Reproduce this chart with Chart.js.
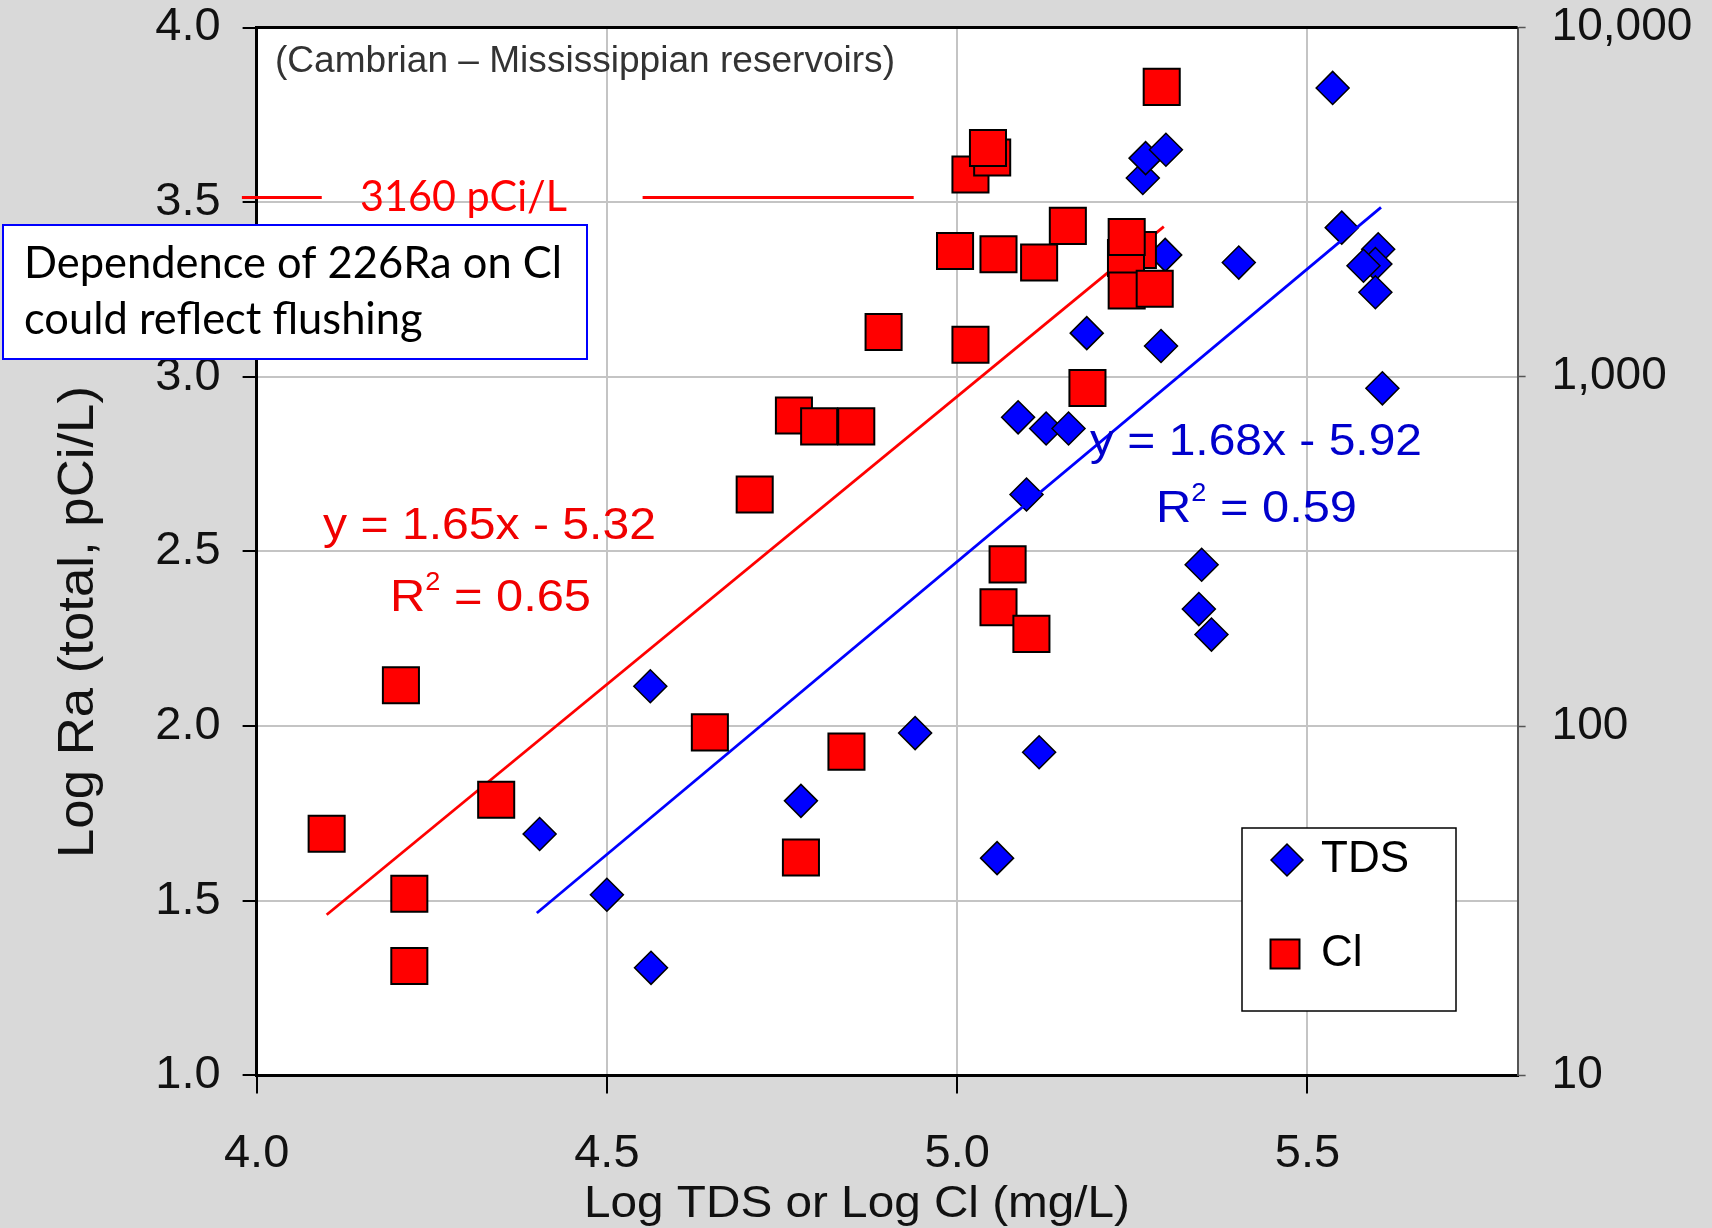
<!DOCTYPE html>
<html>
<head>
<meta charset="utf-8">
<title>Log Ra vs Log TDS / Log Cl</title>
<script src="https://cdn.jsdelivr.net/npm/chart.js@4.4.1/dist/chart.umd.min.js"></script>
<style>
  html, body { margin: 0; padding: 0; background: #d9d9d9; }
  canvas { display: block; }
</style>
</head>
<body>
<canvas id="chart" width="1712" height="1228"></canvas>
<script>
const X_TICKS = [4.0, 4.5, 5.0, 5.5]
const Y_TICKS = [1.0, 1.5, 2.0, 2.5, 3.0, 3.5, 4.0]
const Y2_TICKS = [1, 2, 3, 4]
const Y2_LABELS = ['10', '100', '1,000', '10,000']

// TDS (blue diamonds)
const tdsX = [4.404, 4.500, 4.562, 4.563, 4.777, 4.940, 5.057, 5.117, 5.099, 5.087,
  5.127, 5.159, 5.185, 5.291, 5.297, 5.402, 5.349, 5.345, 5.363, 5.265,
  5.269, 5.298, 5.536, 5.549, 5.601, 5.597, 5.580, 5.597, 5.607]
const tdsY = [1.691, 1.517, 2.114, 1.308, 1.786, 1.980, 1.622, 1.925, 2.663, 2.884,
  2.852, 2.852, 3.125, 3.088, 3.349, 3.327, 2.462, 2.335, 2.262, 3.569,
  3.626, 3.650, 3.827, 3.427, 3.365, 3.323, 3.318, 3.242, 2.967]

// Cl (red squares)
const clX = [4.100, 4.206, 4.218, 4.218, 4.342, 4.647, 4.711, 4.777, 4.767, 4.803,
  4.856, 4.842, 4.895, 4.997, 5.019, 5.019, 5.050, 5.044, 5.059, 5.117,
  5.158, 5.186, 5.072, 5.059, 5.106, 5.258, 5.241, 5.242, 5.242, 5.282, 5.292]
const clY = [1.692, 2.117, 1.520, 1.313, 1.789, 1.982, 2.663, 1.624, 2.889, 2.858,
  2.858, 1.927, 3.128, 3.360, 3.092, 3.579, 3.628, 3.655, 3.351, 3.327,
  3.432, 2.968, 2.463, 2.340, 2.264, 3.363, 3.340, 3.247, 3.400, 3.252, 3.830]

// trend lines, end points as drawn
const clFitX = [4.10, 5.295]
const clFitY = [1.46, 3.43]
const tdsFitX = [4.40, 5.605]
const tdsFitY = [1.465, 3.485]

const X_TITLE = 'Log TDS or Log Cl (mg/L)'
const Y_TITLE = 'Log Ra (total, pCi/L)'
const CAPTION = '(Cambrian \u2013 Mississippian reservoirs)'
const THRESHOLD_LABEL = '3160 pCi/L'
const NOTE_LINES = ['Dependence of 226Ra on Cl', 'could reflect flushing']
const LEGEND_LABELS = ['TDS', 'Cl']

const ARIAL = '"Liberation Sans", Arial, sans-serif'
const CALIBRI = 'Lato, "Noto Sans", sans-serif'
const RED = '#ff0000'
const BLUE = '#0000ff'

const toPoints = (xs, ys) => xs.map((x, i) => ({ x, y: ys[i] }))

function fitText (ctx, text, left, baseline, width, font, color) {
  ctx.save()
  ctx.font = font
  ctx.fillStyle = color
  ctx.textAlign = 'left'
  ctx.textBaseline = 'alphabetic'
  let natural = ctx.measureText(text).width
  ctx.translate(left, baseline)
  ctx.scale(width / natural, 1)
  ctx.fillText(text, 0, 0)
  ctx.restore()
}

function drawEquation (ctx, eq, r2, left, baseline, r2Left, r2Baseline, eqWidth, r2Width, color) {
  fitText(ctx, eq, left, baseline, eqWidth, `45px ${ARIAL}`, color)

  let parts = [['R', 45, 0], ['2', 25, -21], [' = ' + r2, 45, 0]],
    natural = 0
  ctx.save()
  ctx.fillStyle = color
  ctx.textBaseline = 'alphabetic'
  parts.forEach(p => {
    ctx.font = `${p[1]}px ${ARIAL}`
    natural += ctx.measureText(p[0]).width
  })
  ctx.translate(r2Left, r2Baseline)
  ctx.scale(r2Width / natural, 1)
  let x = 0
  parts.forEach(p => {
    ctx.font = `${p[1]}px ${ARIAL}`
    ctx.fillText(p[0], x, p[2])
    x += ctx.measureText(p[0]).width
  })
  ctx.restore()
}

function drawMarker (ctx, style, radius, x, y) {
  if (Chart.helpers && Chart.helpers.drawPoint) {
    Chart.helpers.drawPoint(ctx, { pointStyle: style, radius, borderWidth: ctx.lineWidth, rotation: 0 }, x, y)
    return
  }
  ctx.beginPath()
  if (style === 'rectRot') {
    ctx.moveTo(x, y - radius); ctx.lineTo(x + radius, y); ctx.lineTo(x, y + radius); ctx.lineTo(x - radius, y)
  } else {
    let s = radius * Math.SQRT1_2
    ctx.rect(x - s, y - s, 2 * s, 2 * s)
  }
  ctx.closePath()
  ctx.fill()
  ctx.stroke()
}

const backgroundPlugin = {
  id: 'background',
  beforeDraw (chart) {
    const { ctx, chartArea: a } = chart
    ctx.save()
    ctx.fillStyle = '#d9d9d9'
    ctx.fillRect(0, 0, chart.width, chart.height)
    ctx.fillStyle = '#ffffff'
    ctx.fillRect(a.left, a.top, a.right - a.left, a.bottom - a.top)
    ctx.restore()
  }
}

const overlayPlugin = {
  id: 'overlay',
  afterDraw (chart) {
    const { ctx, chartArea: a } = chart,
      xs = chart.scales.x,
      ys = chart.scales.y

    // top frame line
    ctx.save()
    ctx.strokeStyle = '#000'
    ctx.lineWidth = 3
    ctx.beginPath()
    ctx.moveTo(a.left - 1.5, a.top)
    ctx.lineTo(a.right, a.top)
    ctx.stroke()
    ctx.restore()

    // axis titles
    fitText(ctx, X_TITLE, 584, 1217, 546, `44px ${ARIAL}`, '#111')
    ctx.save()
    ctx.translate(93, 858)
    ctx.rotate(-Math.PI / 2)
    fitText(ctx, Y_TITLE, 0, 0, 472, `50px ${ARIAL}`, '#111')
    ctx.restore()

    fitText(ctx, CAPTION, 275, 72, 620, `36px ${ARIAL}`, '#333')

    // 3160 pCi/L threshold
    let ty = ys.getPixelForValue(3.513)
    ctx.save()
    ctx.strokeStyle = RED
    ctx.lineWidth = 3
    ;[[3.979, 4.093], [4.551, 4.938]].forEach(seg => {
      ctx.beginPath()
      ctx.moveTo(xs.getPixelForValue(seg[0]), ty)
      ctx.lineTo(xs.getPixelForValue(seg[1]), ty)
      ctx.stroke()
    })
    ctx.restore()
    fitText(ctx, THRESHOLD_LABEL, 360, 211, 207, `42px ${CALIBRI}`, RED)

    drawEquation(ctx, 'y = 1.65x - 5.32', '0.65', 323, 539, 390, 611, 333, 201, '#f00000')
    drawEquation(ctx, 'y = 1.68x - 5.92', '0.59', 1090, 455, 1156, 522, 332, 201, '#0000cc')

    // note box
    ctx.save()
    ctx.fillStyle = '#fff'
    ctx.strokeStyle = '#0000ff'
    ctx.lineWidth = 2
    ctx.fillRect(3, 225, 584, 134)
    ctx.strokeRect(3, 225, 584, 134)
    ctx.font = `44px ${CALIBRI}`
    let sx = 538 / ctx.measureText(NOTE_LINES[0]).width
    ctx.fillStyle = '#000'
    ctx.textBaseline = 'alphabetic'
    NOTE_LINES.forEach((line, i) => {
      ctx.save()
      ctx.translate(24, 278 + i * 56)
      ctx.scale(sx, 1)
      ctx.fillText(line, 0, 0)
      ctx.restore()
    })
    ctx.restore()

    // legend
    ctx.save()
    ctx.fillStyle = '#fff'
    ctx.strokeStyle = '#000'
    ctx.lineWidth = 1.5
    ctx.fillRect(1242, 828, 214, 183)
    ctx.strokeRect(1242, 828, 214, 183)
    const rows = [{ y: 860, x: 1287, r: 16 }, { y: 954, x: 1285, r: 20.5 }]
    LEGEND_LABELS.forEach((label, i) => {
      const ds = chart.data.datasets.find(d => d.label === label)
      ctx.fillStyle = ds.backgroundColor
      ctx.strokeStyle = ds.borderColor
      ctx.lineWidth = ds.borderWidth
      drawMarker(ctx, ds.pointStyle, rows[i].r, rows[i].x, rows[i].y)
      ctx.fillStyle = '#000'
      ctx.font = `44px ${ARIAL}`
      ctx.textBaseline = 'middle'
      ctx.fillText(label, 1321, rows[i].y)
    })
    ctx.restore()
  }
}

const tickFont = { family: ARIAL, size: 47 }

new Chart(document.getElementById('chart'), {
  type: 'scatter',
  data: {
    datasets: [
      {
        label: 'Cl',
        data: toPoints(clX, clY),
        pointStyle: 'rect',
        pointRadius: 25.5,
        backgroundColor: RED,
        borderColor: '#000',
        borderWidth: 2,
        order: 0
      },
      {
        label: 'Cl fit',
        type: 'line',
        data: toPoints(clFitX, clFitY),
        borderColor: RED,
        borderWidth: 2.8,
        pointRadius: 0,
        fill: false,
        order: 1
      },
      {
        label: 'TDS fit',
        type: 'line',
        data: toPoints(tdsFitX, tdsFitY),
        borderColor: BLUE,
        borderWidth: 2.8,
        pointRadius: 0,
        fill: false,
        order: 2
      },
      {
        label: 'TDS',
        data: toPoints(tdsX, tdsY),
        pointStyle: 'rectRot',
        pointRadius: 16.5,
        backgroundColor: BLUE,
        borderColor: '#000',
        borderWidth: 1.5,
        order: 3
      }
    ]
  },
  options: {
    responsive: false,
    animation: false,
    events: [],
    layout: { padding: { top: 20, left: 0, right: 0, bottom: 0 } },
    plugins: {
      legend: { display: false },
      tooltip: { enabled: false }
    },
    scales: {
      x: {
        type: 'linear',
        position: 'bottom',
        min: 4.0,
        max: 5.8,
        afterBuildTicks: scale => { scale.ticks = X_TICKS.map(value => ({ value })) },
        afterFit: scale => {
          scale.height = 152.6
          scale.paddingLeft = 0
          scale.paddingRight = 0
        },
        ticks: { font: tickFont, color: '#111', padding: 32, callback: v => v.toFixed(1) },
        grid: { color: '#c4c4c4', lineWidth: 2, tickLength: 18, tickColor: '#000', tickWidth: 2 },
        border: { color: '#000', width: 3 }
      },
      y: {
        type: 'linear',
        position: 'left',
        min: 1.0,
        max: 4.0,
        afterBuildTicks: scale => { scale.ticks = Y_TICKS.map(value => ({ value })) },
        afterFit: scale => {
          scale.width = 256.6
          scale.paddingTop = 0
          scale.paddingBottom = 0
        },
        ticks: { font: tickFont, color: '#111', padding: 22, autoSkip: false, callback: v => v.toFixed(1) },
        grid: { color: '#c4c4c4', lineWidth: 2, tickLength: 14, tickColor: '#000', tickWidth: 2 },
        border: { color: '#000', width: 3 }
      },
      y2: {
        type: 'linear',
        position: 'right',
        min: 1.0,
        max: 4.0,
        afterBuildTicks: scale => { scale.ticks = Y2_TICKS.map(value => ({ value })) },
        afterFit: scale => {
          scale.width = 194.4
          scale.paddingTop = 0
          scale.paddingBottom = 0
        },
        ticks: {
          font: { family: ARIAL, size: 46 },
          color: '#111',
          padding: 26,
          autoSkip: false,
          callback: v => Y2_LABELS[Y2_TICKS.indexOf(v)]
        },
        grid: { drawOnChartArea: false, tickLength: 8, tickColor: '#555', tickWidth: 1.5 },
        border: { color: '#555', width: 2 }
      }
    }
  },
  plugins: [backgroundPlugin, overlayPlugin]
})
</script>
</body>
</html>
